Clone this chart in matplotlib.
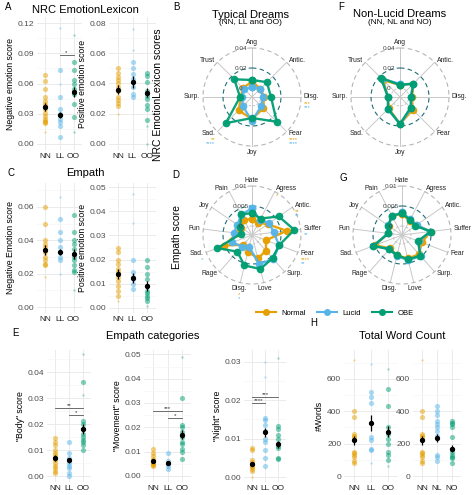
import matplotlib
matplotlib.use("Agg")
import matplotlib.pyplot as plt
import numpy as np
from matplotlib.lines import Line2D
from matplotlib.ticker import FormatStrFormatter, AutoMinorLocator

# ---- data -------------------------------------------------------------
groups = ["Normal", "Lucid", "OBE"]
typ_cats = ["NN", "LL", "OO"]
non_cats = ["NN", "NL", "NO"]

# A: NRC EmotionLexicon (per participant points, means, se)
a_neg_pts = [[0.068, 0.062, 0.055, 0.047, 0.043, 0.040, 0.038, 0.035, 0.031, 0.028, 0.025, 0.023, 0.022, 0.021],
             [0.073, 0.047, 0.035, 0.030, 0.025, 0.022, 0.018, 0.007],
             [0.081, 0.073, 0.063, 0.060, 0.055, 0.050, 0.040, 0.027]]
a_neg_faint = [[0.012], [0.115, 0.060], [0.108, 0.012]]
a_neg_mean = [0.037, 0.029, 0.052]
a_neg_se = [0.004, 0.003, 0.005]

a_pos_pts = [[0.050, 0.047, 0.044, 0.042, 0.040, 0.038, 0.035, 0.031, 0.029, 0.027, 0.025],
             [0.054, 0.050, 0.046, 0.043, 0.038, 0.033, 0.031],
             [0.047, 0.045, 0.041, 0.035, 0.032, 0.030, 0.026, 0.023, 0.016]]
a_pos_faint = [[0.020], [0.076, 0.062], [0.012, 0.000]]
a_pos_mean = [0.036, 0.041, 0.034]
a_pos_se = [0.003, 0.004, 0.003]

# C: Empath
c_neg_pts = [[0.060, 0.050, 0.040, 0.038, 0.036, 0.033, 0.030, 0.028, 0.026, 0.025],
             [0.053, 0.045, 0.040, 0.036, 0.033, 0.030, 0.028],
             [0.055, 0.045, 0.040, 0.038, 0.035, 0.030, 0.028, 0.025, 0.022, 0.021]]
c_neg_faint = [[0.018], [0.066, 0.020], [0.010]]
c_neg_mean = [0.034, 0.033, 0.032]
c_neg_se = [0.003, 0.002, 0.003]

c_pos_pts = [[0.025, 0.023, 0.020, 0.018, 0.016, 0.015, 0.013, 0.011, 0.009, 0.007, 0.005],
             [0.020, 0.015, 0.013, 0.012, 0.010, 0.008],
             [0.020, 0.017, 0.014, 0.012, 0.009, 0.007, 0.006, 0.005, 0.004, 0.003]]
c_pos_faint = [[0.003], [0.047, 0.035], [0.001]]
c_pos_mean = [0.014, 0.0125, 0.009]
c_pos_se = [0.002, 0.002, 0.002]

# E: Empath categories
e_body_pts = [[0.0145, 0.013, 0.012, 0.010, 0.009, 0.008, 0.007, 0.006, 0.005, 0.004, 0.003, 0.002, 0.001],
              [0.013, 0.009, 0.007, 0.006, 0.005, 0.004, 0.003, 0.001, 0.000],
              [0.036, 0.021, 0.020, 0.018, 0.016, 0.015, 0.014, 0.013, 0.012, 0.010]]
e_body_faint = [[], [], [0.047, 0.031]]
e_body_mean = [0.0068, 0.006, 0.018]
e_body_se = [0.0012, 0.001, 0.002]

e_move_pts = [[0.011, 0.0095, 0.008, 0.007, 0.006, 0.0055, 0.005, 0.0045, 0.004],
              [0.0095, 0.006, 0.005, 0.004, 0.003],
              [0.032, 0.021, 0.020, 0.018, 0.016, 0.014, 0.013, 0.011, 0.010, 0.007]]
e_move_faint = [[], [], [0.049]]
e_move_mean = [0.0063, 0.0052, 0.017]
e_move_se = [0.0008, 0.0006, 0.002]

e_night_pts = [[0.0075, 0.007, 0.0045, 0.004, 0.0035, 0.003, 0.0025, 0.002, 0.0015],
               [0.0155, 0.0148, 0.0135, 0.012, 0.010, 0.009, 0.007, 0.005, 0.003],
               [0.0133, 0.0125, 0.011, 0.010, 0.008, 0.0075, 0.005, 0.0048]]
e_night_faint = [[0.000], [0.030, 0.026], [0.031]]
e_night_mean = [0.0035, 0.0117, 0.0085]
e_night_se = [0.0005, 0.0012, 0.001]

# H: total word count
h_typ_pts = [[400, 365, 260, 250, 240, 150, 140, 130, 120, 90, 80],
             [520, 490, 450, 240, 220, 170, 160],
             [540, 430, 300, 260, 230, 200, 150, 130, 100]]
h_typ_faint = [[720], [690, 80], [660, 60]]
h_typ_mean = [220, 330, 275]
h_typ_se = [30, 50, 35]

h_non_pts = [[400, 365, 260, 250, 240, 150, 140, 130, 120, 90, 80],
             [430, 400, 380, 340, 320, 300, 280, 250, 130, 120, 90],
             [340, 330, 320, 300, 240, 170, 150, 130, 120, 110, 80]]
h_non_faint = [[720], [], []]
h_non_mean = [220, 235, 170]
h_non_se = [30, 25, 20]

# radar data
nrc_cats = ["Ang", "Antic.", "Disg.", "Fear", "Joy", "Sad.", "Surp.", "Trust"]
typ_nrc_normal = [0.006, 0.003, 0.003, 0.007, 0.013, 0.010, 0.002, 0.004]
typ_nrc_lucid = [0.001, 0.003, 0.002, 0.004, 0.015, 0.004, 0.001, 0.002]
typ_nrc_obe = [0.008, 0.012, 0.010, 0.026, 0.012, 0.028, 0.003, 0.016]
non_nrc_normal = [0.003, 0.010, 0.003, 0.009, 0.018, 0.007, 0.003, 0.015]
non_nrc_lucid = [0.004, 0.009, 0.002, 0.007, 0.018, 0.008, 0.003, 0.017]
non_nrc_obe = [0.003, 0.010, 0.002, 0.006, 0.018, 0.008, 0.003, 0.018]

emp_cats = ["Hate", "Agress", "Antic.", "Suffer", "Fear", "Surp.", "Love",
            "Disg.", "Rage", "Sad.", "Fun", "Joy", "Pain"]
typ_emp_normal = [0.0018, 0.0012, 0.0025, 0.0065, 0.0015, 0.0030, 0.0038, 0.0020, 0.0010, 0.0052, 0.0015, 0.0010, 0.0020]
typ_emp_lucid = [0.0044, 0.0020, 0.0030, 0.0032, 0.0050, 0.0058, 0.0052, 0.0008, 0.0016, 0.0030, 0.0023, 0.0022, 0.0035]
typ_emp_obe = [0.0032, 0.0024, 0.0059, 0.0084, 0.0050, 0.0055, 0.0065, 0.0056, 0.0033, 0.0070, 0.0005, 0.0013, 0.0036]
non_emp_normal = [0.0030, 0.0018, 0.0020, 0.0050, 0.0030, 0.0042, 0.0038, 0.0030, 0.0022, 0.0050, 0.0012, 0.0018, 0.0032]
non_emp_lucid = [0.0034, 0.0022, 0.0022, 0.0048, 0.0022, 0.0048, 0.0042, 0.0032, 0.0025, 0.0054, 0.0012, 0.0020, 0.0030]
non_emp_obe = [0.0032, 0.0020, 0.0018, 0.0050, 0.0020, 0.0047, 0.0040, 0.0030, 0.0025, 0.0054, 0.0012, 0.0019, 0.0032]

# ---- figure -----------------------------------------------------------
W, H = 474, 495
fig = plt.figure(figsize=(W / 100, H / 100), dpi=100)
plt.rcParams['font.family'] = ['Liberation Sans', 'DejaVu Sans']

ORANGE, BLUE, GREEN = "#E69F00", "#56B4E9", "#009E73"
COLS = [ORANGE, BLUE, GREEN]


def rect(x0, y0, x1, y1):
    return [x0 / W, 1 - y1 / H, (x1 - x0) / W, (y1 - y0) / H]


def ftext(x, y, s, **kw):
    fig.text(x / W, 1 - y / H, s, **kw)


def strip(r, pts, faint, mean, se, cats, ylim, yticks, fmt, ylabel, brackets=()):
    ax = fig.add_axes(rect(*r))
    for i, c in enumerate(COLS):
        ax.scatter(np.full(len(pts[i]), i), pts[i], s=14, color=c, alpha=0.5, lw=0, zorder=2)
        ax.scatter(np.full(len(faint[i]), i), faint[i], s=3, color=c, alpha=0.35, lw=0, zorder=2)
        ax.errorbar(i, mean[i], yerr=se[i], fmt='o', color='black', ms=2.8,
                    elinewidth=0.9, capsize=0, zorder=3)
    ax.set_xlim(-0.6, len(cats) - 0.4)
    ax.set_ylim(*ylim)
    ax.set_xticks(range(len(cats)), cats)
    ax.set_yticks(yticks)
    ax.yaxis.set_major_formatter(FormatStrFormatter(fmt))
    ax.yaxis.set_minor_locator(AutoMinorLocator(2))
    ax.grid(True, which='major', color='#e8e8e8', lw=0.6)
    ax.grid(True, which='minor', axis='y', color='#f3f3f3', lw=0.4)
    ax.set_axisbelow(True)
    for s in ax.spines.values():
        s.set_visible(False)
    ax.tick_params(which='both', length=0, labelsize=6, pad=2, colors='#4d4d4d')
    ax.tick_params(axis='x', labelcolor='#222222')
    ax.set_ylabel(ylabel, fontsize=6.3, labelpad=2)
    for i, j, y, lab in brackets:
        ax.plot([i, j], [y, y], color='#555555', lw=0.6)
        ax.text((i + j) / 2, y, lab, ha='center', va='bottom', fontsize=4.5, color='#333333')
    return ax


def radar(cx, cy, cats, series, rmin, scale, ring_vals, ring_labs, stars):
    R = 56
    ax = fig.add_axes(rect(cx - R, cy - R, cx + R, cy + R), projection='polar')
    ax.set_theta_zero_location('N')
    ax.set_theta_direction(-1)
    rmax = ring_vals[-1]
    ax.set_ylim(rmin, rmin + R * scale)
    ax.set_axis_off()
    th = np.linspace(0, 2 * np.pi, len(cats), endpoint=False)
    circ = np.linspace(0, 2 * np.pi, 300)
    for t in th:
        ax.plot([t, t], [rmin, rmax], color='#c8c8c8', lw=0.7, zorder=1)
    ax.plot(circ, np.full(300, ring_vals[0]), ls=(0, (3, 2)), color='#bdbdbd', lw=0.6, zorder=1)
    ax.plot(circ, np.full(300, ring_vals[1]), ls=(0, (4, 3)), color='#1f6d78', lw=0.8, zorder=1)
    ax.plot(circ, np.full(300, ring_vals[2]), ls=(0, (4, 3)), color='#b5b5b5', lw=0.8, zorder=1)
    # ring labels sit just left of the top spoke
    for rv, lab in zip(ring_vals, ring_labs):
        rp = (rv - rmin) / scale
        dx = -11
        ax.text(np.arctan2(dx, rp), rmin + np.hypot(dx, rp) * scale, lab, fontsize=4.6,
                color='#444444', ha='center', va='center', zorder=5)
    for vals, c in zip(series, COLS):
        t = np.r_[th, th[0]]
        v = np.r_[vals, vals[0]]
        ax.plot(t, v, color=c, lw=1.7, marker='o', ms=4.5, zorder=3, alpha=0.95)
    for k, (t, name) in enumerate(zip(th, cats)):
        sx = np.sin(t)
        ha = 'left' if sx > 0.3 else ('right' if sx < -0.3 else 'center')
        lab_r = rmin + (52 if ha != 'center' else 55) * scale
        ax.text(t, lab_r, name, fontsize=4.9, ha=ha, va='center', color='#222222')
        for row, (col, s) in enumerate(stars.get(k, [])):
            ax.annotate(s, xy=(t, lab_r), xytext=(0, -4.5 - 2.8 * row), textcoords='offset points',
                        fontsize=4.2, color=col, ha=ha, va='center')
    return ax


# --- panel A
ftext(5, 7, "A", fontsize=7, va='center')
ftext(85, 10, "NRC EmotionLexicon", fontsize=8, ha='center', va='center')
strip((37, 17, 82, 150), a_neg_pts, a_neg_faint, a_neg_mean, a_neg_se, typ_cats,
      (-0.006, 0.126), [0, 0.03, 0.06, 0.09, 0.12], '%.2f', "Negative emotion score",
      brackets=[(1, 2, 0.088, '*')])
strip((109, 17, 156, 150), a_pos_pts, a_pos_faint, a_pos_mean, a_pos_se, typ_cats,
      (-0.004, 0.084), [0, 0.02, 0.04, 0.06, 0.08], '%.2f', "Positive emotion score")

# --- panel C
ftext(8, 173, "C", fontsize=7, va='center')
ftext(85, 173, "Empath", fontsize=8, ha='center', va='center')
strip((37, 183, 82, 313), c_neg_pts, c_neg_faint, c_neg_mean, c_neg_se, typ_cats,
      (-0.0036, 0.0744), [0, 0.02, 0.04, 0.06], '%.2f', "Negative Emotion score")
strip((109, 183, 156, 313), c_pos_pts, c_pos_faint, c_pos_mean, c_pos_se, typ_cats,
      (-0.0021, 0.0517), [0, 0.01, 0.02, 0.03, 0.04, 0.05], '%.2f', "Positive emotion score")

# --- panel E
ftext(12, 333, "E", fontsize=7, va='center')
ftext(153, 336, "Empath categories", fontsize=8, ha='center', va='center')
strip((47, 350, 91, 482), e_body_pts, e_body_faint, e_body_mean, e_body_se, typ_cats,
      (-0.0023, 0.0485), [0, 0.01, 0.02, 0.03, 0.04], '%.2f', '"Body" score',
      brackets=[(0, 2, 0.026, '**'), (1, 2, 0.0235, '*')])
strip((144, 350, 191, 482), e_move_pts, e_move_faint, e_move_mean, e_move_se, typ_cats,
      (-0.0025, 0.0518), [0, 0.01, 0.02, 0.03, 0.04, 0.05], '%.2f', '"Movement" score',
      brackets=[(0, 2, 0.0267, '***'), (1, 2, 0.024, '*')])
strip((244, 350, 286, 482), e_night_pts, e_night_faint, e_night_mean, e_night_se, typ_cats,
      (-0.0013, 0.0331), [0, 0.01, 0.02, 0.03], '%.2f', '"Night" score',
      brackets=[(0, 2, 0.0209, '***'), (0, 1, 0.0193, '****')])

# --- panel H
ftext(310, 323, "H", fontsize=7, va='center')
ftext(402, 336, "Total Word Count", fontsize=8, ha='center', va='center')
strip((344, 350, 398, 482), h_typ_pts, h_typ_faint, h_typ_mean, h_typ_se, typ_cats,
      (-37, 779), [0, 200, 400, 600], '%d', "#Words")
strip((413, 350, 461, 482), h_non_pts, h_non_faint, h_non_mean, h_non_se, non_cats,
      (-37, 779), [0, 200, 400, 600], '%d', "")

# --- radar panels
ftext(173, 7, "B", fontsize=7, va='center')
ftext(250, 15, "Typical Dreams", fontsize=8, ha='center', va='center')
ftext(250, 23, "(NN, LL and OO)", fontsize=6, ha='center', va='center')
ftext(158, 95, "NRC EmotionLexicon scores", fontsize=7.5, rotation=90, ha='center', va='center')
radar(252, 97, nrc_cats, [typ_nrc_normal, typ_nrc_lucid, typ_nrc_obe], -0.009, 0.001,
      [0, 0.02, 0.04], ["0", "0.02", "0.04"],
      {2: [(ORANGE, '***'), (BLUE, '***')], 3: [(ORANGE, '****'), (BLUE, '****')],
       5: [(ORANGE, '**'), (BLUE, '****')]})

ftext(338, 7, "F", fontsize=7, va='center')
ftext(400, 14, "Non-Lucid Dreams", fontsize=8, ha='center', va='center')
ftext(400, 23, "(NN, NL and NO)", fontsize=6, ha='center', va='center')
radar(400, 97, nrc_cats, [non_nrc_normal, non_nrc_lucid, non_nrc_obe], -0.009, 0.001,
      [0, 0.02, 0.04], ["0", "0.02", "0.04"], {})

ftext(172, 175, "D", fontsize=7, va='center')
ftext(177, 237, "Empath score", fontsize=7.5, rotation=90, ha='center', va='center')
radar(252, 235, emp_cats, [typ_emp_normal, typ_emp_lucid, typ_emp_obe], -0.00225, 0.00025,
      [0, 0.005, 0.01], ["0", "0.005", "0.01"],
      {1: [(ORANGE, '*')], 2: [(ORANGE, '**'), (BLUE, '**')], 3: [(BLUE, '**')],
       4: [(ORANGE, '****'), (BLUE, '**')], 7: [(ORANGE, '*'), (BLUE, '*')], 9: [(BLUE, '*')]})

ftext(339, 178, "G", fontsize=7, va='center')
radar(402, 235, emp_cats, [non_emp_normal, non_emp_lucid, non_emp_obe], -0.00225, 0.00025,
      [0, 0.005, 0.01], ["0", "0.005", "0.01"], {})

# legend
handles = [Line2D([0], [0], color=c, lw=1.5, marker='o', ms=4) for c in COLS]
fig.legend(handles, groups, loc='center', bbox_to_anchor=(335 / W, 1 - 313 / H), ncol=3,
           frameon=False, fontsize=5.5, handlelength=2.6, columnspacing=1.5, handletextpad=0.7)

fig.savefig("out.png", dpi=100, facecolor='white')
